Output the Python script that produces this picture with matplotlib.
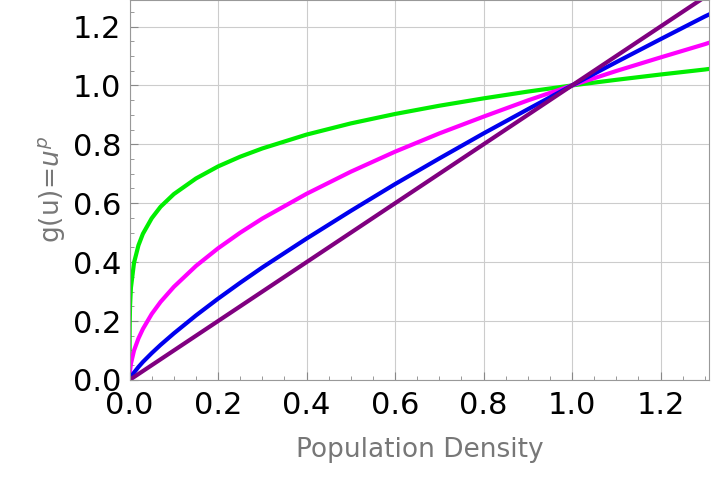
import matplotlib
matplotlib.use("Agg")
import matplotlib.pyplot as plt
from matplotlib.ticker import MultipleLocator

x = [0, 0.0001, 0.0003, 0.001, 0.003, 0.01, 0.02, 0.03, 0.05, 0.07, 0.1, 0.15, 0.2, 0.25, 0.3, 0.4, 0.5, 0.6, 0.7, 0.8, 0.9, 1.0, 1.1, 1.2, 1.3, 1.31]
y_green = [0, 0.158, 0.197, 0.251, 0.313, 0.398, 0.457, 0.496, 0.549, 0.588, 0.631, 0.684, 0.725, 0.758, 0.786, 0.833, 0.871, 0.903, 0.931, 0.956, 0.979, 1.0, 1.019, 1.037, 1.054, 1.056]
y_magenta = [0, 0.010, 0.0173, 0.032, 0.055, 0.100, 0.141, 0.173, 0.224, 0.265, 0.316, 0.387, 0.447, 0.500, 0.548, 0.632, 0.707, 0.775, 0.837, 0.894, 0.949, 1.0, 1.049, 1.095, 1.140, 1.145]
y_blue = [0, 0.0006, 0.0015, 0.004, 0.0095, 0.025, 0.044, 0.061, 0.091, 0.119, 0.158, 0.219, 0.276, 0.330, 0.382, 0.480, 0.574, 0.665, 0.752, 0.837, 0.919, 1.0, 1.079, 1.157, 1.234, 1.241]
y_purple = [0, 0.0001, 0.0003, 0.001, 0.003, 0.01, 0.02, 0.03, 0.05, 0.07, 0.1, 0.15, 0.2, 0.25, 0.3, 0.4, 0.5, 0.6, 0.7, 0.8, 0.9, 1.0, 1.1, 1.2, 1.3, 1.31]

fig = plt.figure(figsize=(7.2, 4.84), dpi=100)
ax = fig.add_axes([0.18, 0.215, 0.805, 0.785])
ax.plot(x, y_green, color="#00ee00", lw=3)
ax.plot(x, y_magenta, color="#ff00ff", lw=3)
ax.plot(x, y_blue, color="#0000ee", lw=3)
ax.plot(x, y_purple, color="#800080", lw=3)
ax.set_xlim(0, 1.31)
ax.set_ylim(0, 1.29)
ax.xaxis.set_major_locator(MultipleLocator(0.2))
ax.yaxis.set_major_locator(MultipleLocator(0.2))
ax.xaxis.set_minor_locator(MultipleLocator(0.05))
ax.yaxis.set_minor_locator(MultipleLocator(0.05))
ax.xaxis.set_major_formatter(lambda v, p: f"{v:.1f}")
ax.yaxis.set_major_formatter(lambda v, p: f"{v:.1f}")
ax.grid(True, which="major", color="#cccccc", lw=0.8)
ax.tick_params(labelsize=22, colors="black", which="both", direction="in")
ax.tick_params(which="major", length=6, color="#888888")
ax.tick_params(which="minor", length=3, color="#888888")
ax.tick_params(axis="x", pad=8)
ax.tick_params(axis="y", pad=6)
for s in ax.spines.values():
    s.set_color("#999999")
ax.set_xlabel("Population Density", fontsize=19, color="#777777", labelpad=12)
ax.set_ylabel("g(u)=$u^p$", fontsize=19, color="#777777", labelpad=4)
fig.savefig("out.png", dpi=100)
